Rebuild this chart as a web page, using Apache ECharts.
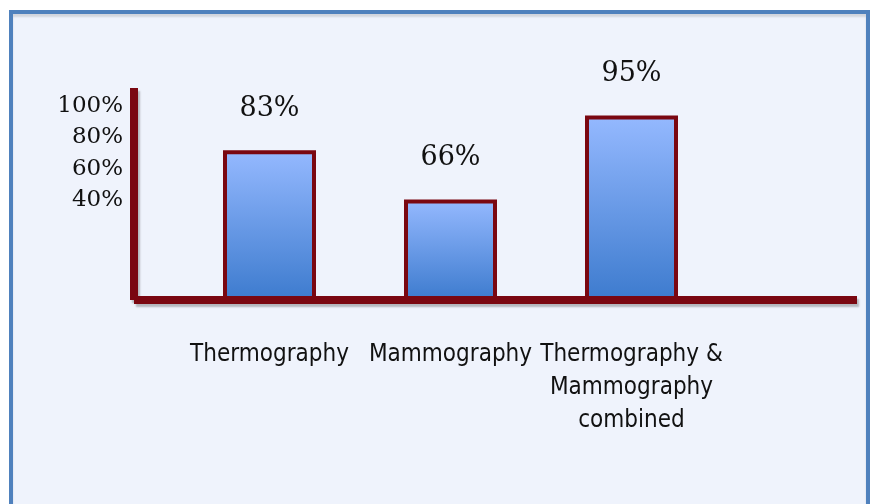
<!DOCTYPE html>
<html>
<head>
<meta charset="utf-8">
<script src="https://cdn.jsdelivr.net/npm/echarts@6/dist/echarts.min.js"></script>
<style>
  html, body { margin: 0; padding: 0; background: #ffffff; overflow: hidden; }
  .frame {
    position: absolute; left: 9px; top: 10px; width: 853px; height: 520px;
    border: 4px solid #4f81bd; border-bottom: none; background: #eff3fc;
    box-shadow: inset 0 3px 2px rgba(0, 0, 0, 0.12);
  }
  .chart { position: absolute; left: 0; top: 0; width: 871px; height: 504px; }
</style>
</head>
<body>
<div class="frame"></div>
<div class="chart" id="chart"></div>
<script>
const categories = ['Thermography', 'Mammography', 'Thermography &\nMammography\ncombined']
const accuracy = [83, 66, 95]
const tickLabels = ['40%', '60%', '80%', '100%']

const maroon = '#7a0711'
const heavyLine = {
  color: maroon,
  width: 8,
  cap: 'butt',
  shadowColor: 'rgba(0, 0, 0, 0.25)',
  shadowOffsetX: 2,
  shadowOffsetY: 3,
  shadowBlur: 2
}

const chart = echarts.init(document.getElementById('chart'), null, { renderer: 'canvas' })
chart.setOption({
  animation: false,
  backgroundColor: 'transparent',
  grid: [
    // bars
    { left: 179, right: 149, top: 101, bottom: 206 },
    // percent labels at the top left
    { left: 130, right: 700, top: 106, bottom: 304 },
    // the heavy axis lines
    { left: 134, right: 14, top: 88, bottom: 204 }
  ],
  xAxis: [
    {
      gridIndex: 0,
      type: 'category',
      data: categories,
      axisLine: { show: false },
      axisTick: { show: false },
      axisLabel: {
        interval: 0,
        hideOverlap: false,
        margin: 40,
        fontFamily: '"Liberation Sans Narrow", "DejaVu Sans Condensed", sans-serif',
        fontSize: 24,
        lineHeight: 33,
        color: '#111111'
      }
    },
    { gridIndex: 1, type: 'value', show: false },
    {
      gridIndex: 2,
      type: 'value',
      axisLine: { show: true, onZero: false, lineStyle: heavyLine },
      axisTick: { show: false },
      axisLabel: { show: false },
      splitLine: { show: false }
    }
  ],
  yAxis: [
    { gridIndex: 0, type: 'value', min: 32, max: 100, show: false },
    {
      gridIndex: 1,
      type: 'category',
      data: tickLabels,
      boundaryGap: false,
      axisLine: { show: false },
      axisTick: { show: false },
      axisLabel: {
        margin: 7,
        fontFamily: '"DejaVu Serif", serif',
        fontSize: 23,
        color: '#111111'
      }
    },
    {
      gridIndex: 2,
      type: 'value',
      axisLine: { show: true, onZero: false, lineStyle: heavyLine },
      axisTick: { show: false },
      axisLabel: { show: false },
      splitLine: { show: false }
    }
  ],
  series: [{
    type: 'bar',
    xAxisIndex: 0,
    yAxisIndex: 0,
    data: accuracy,
    barWidth: 93,
    itemStyle: {
      color: new echarts.graphic.LinearGradient(0, 0, 0, 1, [
        { offset: 0, color: '#95b9ff' },
        { offset: 1, color: '#3d7bce' }
      ]),
      borderColor: maroon,
      borderWidth: 4
    },
    label: {
      show: true,
      position: 'top',
      distance: 28,
      formatter: '{c}%',
      fontFamily: '"DejaVu Serif", serif',
      fontSize: 27,
      color: '#111111'
    }
  }]
})
</script>
</body>
</html>
